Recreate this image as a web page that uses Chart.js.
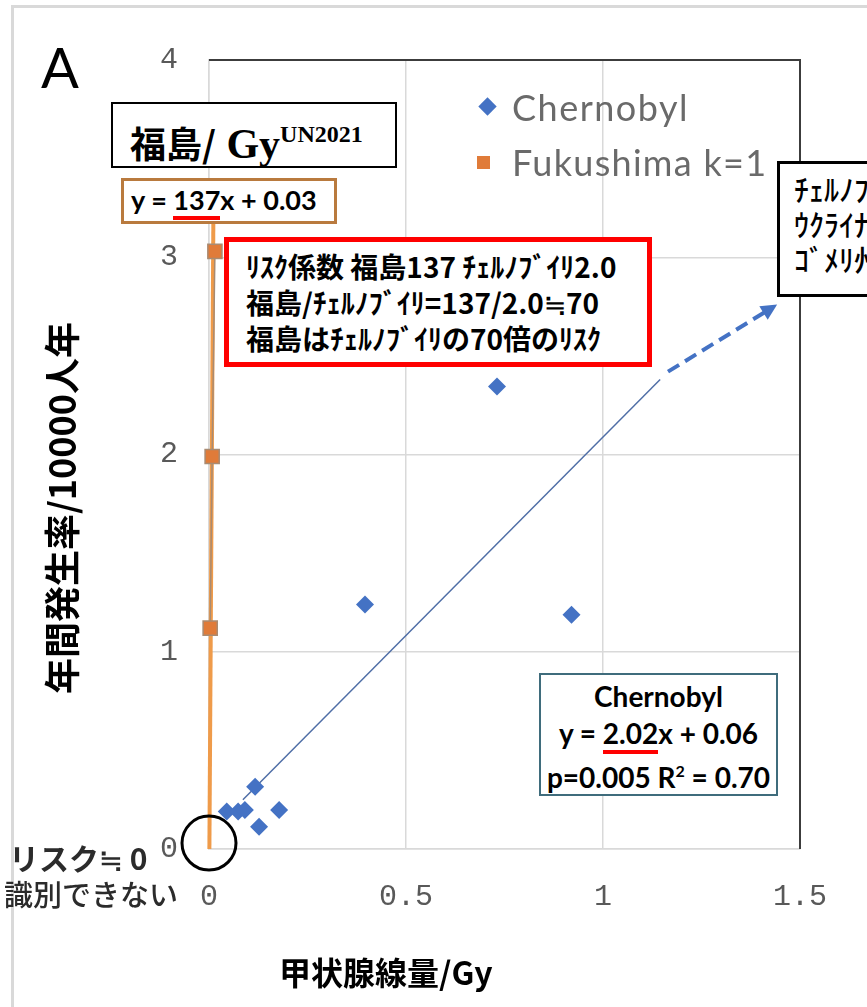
<!DOCTYPE html>
<html lang="ja">
<head>
<meta charset="utf-8">
<script src="https://cdn.jsdelivr.net/npm/chart.js@4.4.1/dist/chart.umd.min.js"></script>
<style>
  body { margin: 0; background: #fff; overflow: hidden; }
  #wrap { position: relative; width: 867px; height: 1007px; overflow: hidden; }
  #frame { position: absolute; left: 11px; top: 5px; width: 900px; height: 1100px; border-left: 3px solid #d9d9d9; border-top: 3px solid #d9d9d9; }
  canvas { position: absolute; left: 0; top: 0; }
  .jp { font-family: "Noto Sans CJK JP", sans-serif; }
  .lat { font-family: Lato, "Noto Sans", sans-serif; }
  .box { position: absolute; background: #fff; box-sizing: border-box; color: #000; white-space: nowrap; }
  .txt { position: absolute; white-space: nowrap; }
  .ul { border-bottom: 4px solid #ff0000; }
</style>
</head>
<body>
<div id="wrap">
  <div id="frame"></div>
  <canvas id="myChart" width="867" height="1007"></canvas>

  <div class="txt lat" style="left:41px;top:34px;font-size:56px;line-height:66px;">A</div>

  <div class="box" style="left:111px;top:102px;width:286px;height:66px;border:2px solid #000;padding-left:17px;line-height:60px;">
    <span class="jp" style="font-size:36px;font-weight:700;">福島/</span><span style="font-family:'Liberation Serif',serif;font-size:42px;font-weight:700;"> Gy<sup style="font-size:24px;vertical-align:16px;">UN2021</sup></span>
  </div>

  <div class="box lat" style="left:121px;top:178px;width:216px;height:46px;border:3px solid #b97a3e;padding-left:7px;font-size:27px;font-weight:700;line-height:38px;">
    y = <span class="ul">137</span>x + 0.03
  </div>

  <div class="box jp" style="left:224px;top:237px;width:428px;height:130px;border:5px solid #ff0000;padding:6px 0 0 17px;font-size:28px;font-weight:700;line-height:36px;">
    <div>ﾘｽｸ係数 福島137 ﾁｪﾙﾉﾌﾞｲﾘ2.0</div>
    <div>福島/ﾁｪﾙﾉﾌﾞｲﾘ=137/2.0≒70</div>
    <div>福島はﾁｪﾙﾉﾌﾞｲﾘの70倍のﾘｽｸ</div>
  </div>

  <div class="box jp" style="left:777px;top:161px;width:200px;height:136px;border:3px solid #000;padding:7px 0 0 14px;font-size:30px;font-weight:500;line-height:35px;">
    <div>ﾁｪﾙﾉﾌﾞｲﾘ</div>
    <div>ｳｸﾗｲﾅ</div>
    <div>ｺﾞﾒﾘ州</div>
  </div>

  <div class="box lat" style="left:539px;top:673px;width:239px;height:123px;border:2px solid #3f6c7c;padding-top:3px;text-align:center;font-size:28px;font-weight:700;line-height:37px;">
    <div>Chernobyl</div>
    <div>y = <span class="ul">2.02</span>x + 0.06</div>
    <div>p=0.005 R<sup style="font-size:16px;vertical-align:11px;">2</sup> = 0.70</div>
  </div>

  <div id="legend">
    <div class="txt" style="left:481px;top:100px;width:13px;height:13px;background:#4472c4;transform:rotate(45deg);"></div>
    <div class="txt lat" style="left:512px;top:84px;font-size:36px;line-height:46px;color:#6a6a6a;letter-spacing:1.5px;">Chernobyl</div>
    <div class="txt" style="left:477px;top:156px;width:13px;height:13px;background:#e07b39;"></div>
    <div class="txt lat" style="left:512px;top:139px;font-size:36px;line-height:46px;color:#6a6a6a;letter-spacing:1.3px;">Fukushima k=1</div>
  </div>

  <div class="txt jp" style="left:9px;top:838px;font-size:30px;font-weight:700;line-height:38px;color:#2b2b2b;">リスク≒ 0</div>
  <div class="txt jp" style="left:4px;top:874px;font-size:29px;font-weight:500;line-height:38px;color:#2b2b2b;">識別できない</div>

  <div class="txt jp" style="left:-165px;top:483px;width:450px;height:50px;text-align:center;transform:rotate(-90deg);font-size:36px;font-weight:700;line-height:50px;">年間発生率/10000人年</div>
  <div class="txt jp" style="left:279px;top:949px;font-size:32px;font-weight:700;line-height:44px;">甲状腺線量/Gy</div>
</div>

<script>
"use strict";

const chernobylX = [0.045, 0.074, 0.091, 0.117, 0.127, 0.178, 0.396, 0.731, 0.92]
const chernobylY = [0.19, 0.19, 0.198, 0.316, 0.113, 0.198, 1.239, 2.345, 1.188]

const fukushimaX = [0.003, 0.008, 0.015]
const fukushimaY = [1.12, 1.99, 3.03]

// trend lines as they appear in the picture (end points)
const chernobylFitX = [0.086, 1.145]
const chernobylFitY = [0.25, 2.38]
const fukushimaFitX = [0.001, 0.011]
const fukushimaFitY = [0, 3.17]

// dashed arrow continuing the Chernobyl trend
const arrowX = [1.165, 1.442]
const arrowY = [2.42, 2.76]

// "risk = 0" circle at origin
const circleAt = [0, 0.03]

const xTicks = [0, 0.5, 1, 1.5]
const yTicks = [0, 1, 2, 3, 4]

const toPoints = (xs, ys) => xs.map((x, i) => ({ x, y: ys[i] }))

const decorPlugin = {
    id: 'decor',
    afterDraw(chart) {
        const { ctx, chartArea: a, scales: { x, y } } = chart
        ctx.save()
        ctx.strokeStyle = '#3c3c3c'
        ctx.lineWidth = 2
        ctx.beginPath()
        ctx.moveTo(a.left, a.top)
        ctx.lineTo(a.right, a.top)
        ctx.lineTo(a.right, a.bottom)
        ctx.stroke()

        const x0 = x.getPixelForValue(arrowX[0]), y0 = y.getPixelForValue(arrowY[0])
        const x1 = x.getPixelForValue(arrowX[1]), y1 = y.getPixelForValue(arrowY[1])
        const ang = Math.atan2(y1 - y0, x1 - x0)
        ctx.strokeStyle = '#4472c4'
        ctx.fillStyle = '#4472c4'
        ctx.lineWidth = 4
        ctx.setLineDash([13, 7])
        ctx.beginPath()
        ctx.moveTo(x0, y0)
        ctx.lineTo(x1 - 12 * Math.cos(ang), y1 - 12 * Math.sin(ang))
        ctx.stroke()
        ctx.setLineDash([])
        ctx.beginPath()
        ctx.moveTo(x1, y1)
        ctx.lineTo(x1 - 16 * Math.cos(ang) + 8 * Math.sin(ang), y1 - 16 * Math.sin(ang) - 8 * Math.cos(ang))
        ctx.lineTo(x1 - 16 * Math.cos(ang) - 8 * Math.sin(ang), y1 - 16 * Math.sin(ang) + 8 * Math.cos(ang))
        ctx.closePath()
        ctx.fill()

        ctx.strokeStyle = '#000'
        ctx.lineWidth = 3
        ctx.beginPath()
        ctx.arc(x.getPixelForValue(circleAt[0]), y.getPixelForValue(circleAt[1]), 27, 0, Math.PI * 2)
        ctx.stroke()
        ctx.restore()
    }
}

const tickFont = { family: "'Liberation Mono', monospace", size: 30 }

new Chart('myChart', {
    type: 'scatter',
    data: {
        datasets: [
            {
                label: 'Chernobyl',
                data: toPoints(chernobylX, chernobylY),
                pointStyle: 'rectRot',
                pointRadius: 9,
                backgroundColor: '#4472c4',
                borderColor: '#4472c4',
                borderWidth: 0,
                clip: false
            },
            {
                label: 'Fukushima k=1',
                data: toPoints(fukushimaX, fukushimaY),
                pointStyle: 'rect',
                pointRadius: 10,
                backgroundColor: '#e07b39',
                borderColor: '#a98b72',
                borderWidth: 1.5,
                showLine: true,
                clip: false
            },
            {
                label: 'Chernobyl fit',
                data: toPoints(chernobylFitX, chernobylFitY),
                showLine: true,
                pointRadius: 0,
                borderColor: '#4f6ea6',
                borderWidth: 1.5
            },
            {
                label: 'Fukushima fit',
                data: toPoints(fukushimaFitX, fukushimaFitY),
                showLine: true,
                pointRadius: 0,
                borderColor: '#ef9b4a',
                borderWidth: 4,
                clip: false
            }
        ]
    },
    options: {
        responsive: false,
        animation: false,
        layout: { padding: { top: 60, right: 67, left: 0, bottom: 0 } },
        plugins: { legend: { display: false }, tooltip: { enabled: false } },
        scales: {
            x: {
                type: 'linear',
                min: xTicks[0],
                max: xTicks[xTicks.length - 1],
                afterBuildTicks: s => { s.ticks = xTicks.map(v => ({ value: v })) },
                afterFit: s => { s.height = 158 },
                ticks: { font: tickFont, color: '#595959', padding: 30, callback: v => String(v) },
                grid: { color: '#d9d9d9', lineWidth: 1.5, drawTicks: false },
                border: { color: '#d9d9d9', width: 1.5 }
            },
            y: {
                type: 'linear',
                min: yTicks[0],
                max: yTicks[yTicks.length - 1],
                afterBuildTicks: s => { s.ticks = yTicks.map(v => ({ value: v })) },
                afterFit: s => { s.width = 209 },
                ticks: { font: tickFont, color: '#595959', padding: 31, callback: v => String(v) },
                grid: { color: '#d9d9d9', lineWidth: 1.5, drawTicks: false },
                border: { color: '#d9d9d9', width: 1.5 }
            }
        }
    },
    plugins: [decorPlugin]
})
</script>
</body>
</html>
